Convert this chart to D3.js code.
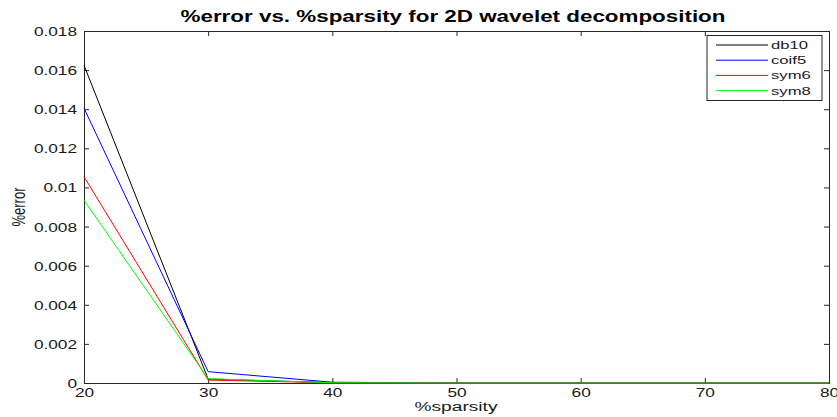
<!DOCTYPE html>
<html>
<head>
<meta charset="utf-8">
<script src="https://cdn.jsdelivr.net/npm/d3@7"></script>
<style>
  body { margin: 0; background: #fff; }
  svg { display: block; font-family: "Liberation Sans", Arial, sans-serif; }
</style>
</head>
<body>
<svg id="chart" width="837" height="417"></svg>
<script>
// Sparsity levels (%) on the x axis
const sparsity = [20, 30, 40, 50, 60, 70, 80];

// Percent error for each wavelet family
const db10  = [0.01625, 0.00020, 0.00002, 0, 0, 0, 0];
const coif5 = [0.01405, 0.00058, 0.00004, 0, 0, 0, 0];
const sym6  = [0.01055, 0.00015, 0.00001, 0, 0, 0, 0];
const sym8  = [0.00935, 0.00022, 0.00001, 0, 0, 0, 0];

const seriesNames = ["db10", "coif5", "sym6", "sym8"];
const seriesColors = ["#000000", "#0000ff", "#ff0000", "#00ff00"];
const seriesValues = [db10, coif5, sym6, sym8];

const xTicks = [20, 30, 40, 50, 60, 70, 80];
const yTicks = [0, 0.002, 0.004, 0.006, 0.008, 0.01, 0.012, 0.014, 0.016, 0.018];

const svg = d3.select("#chart");
const plotLeft = 84, plotRight = 829, plotTop = 31, plotBottom = 383;

const x = d3.scaleLinear().domain([20, 80]).range([plotLeft, plotRight]);
const y = d3.scaleLinear().domain([0, 0.018]).range([plotBottom, plotTop]);

const axisColor = "#262626";
const textColor = "#1a1a1a";
const tickLen = 5;
const sx = 1.38; // horizontal widening of all lettering

// Text whose glyphs are widened horizontally around its anchor point
function wideText(parent, px, py, str, size, anchor, widen) {
  return parent.append("text")
    .attr("transform", `translate(${px},${py}) scale(${widen || sx},1)`)
    .attr("text-anchor", anchor)
    .attr("font-size", size)
    .attr("fill", textColor)
    .text(str);
}

// Title
wideText(svg, 453, 22, "%error vs. %sparsity for 2D wavelet decomposition", 16, "middle", 1.4)
  .attr("font-weight", "bold").attr("fill", "#000");

// Bottom axis with inward ticks
const xAxis = svg.append("g").attr("transform", `translate(0,${plotBottom})`)
  .call(d3.axisBottom(x).tickValues(xTicks).tickSize(-tickLen).tickFormat(d3.format("d")));
// Top axis ticks (no labels)
const xAxisTop = svg.append("g").attr("transform", `translate(0,${plotTop})`)
  .call(d3.axisTop(x).tickValues(xTicks).tickSize(-tickLen).tickFormat(""));
// Left axis
const yAxis = svg.append("g").attr("transform", `translate(${plotLeft},0)`)
  .call(d3.axisLeft(y).tickValues(yTicks).tickSize(-tickLen)
    .tickFormat(d => d === 0 ? "0" : String(+d.toFixed(3))));
// Right axis ticks (no labels)
const yAxisRight = svg.append("g").attr("transform", `translate(${plotRight},0)`)
  .call(d3.axisRight(y).tickValues(yTicks).tickSize(-tickLen).tickFormat(""));

[xAxis, xAxisTop, yAxis, yAxisRight].forEach(g => {
  g.select(".domain").attr("stroke", axisColor).attr("stroke-width", 1);
  g.selectAll(".tick line").attr("stroke", axisColor);
  g.selectAll("text").attr("font-size", 12.5).attr("fill", textColor)
    .attr("font-family", "Liberation Sans, Arial, sans-serif");
});
// Widen tick lettering and place it beside the axes
xAxis.selectAll(".tick text")
  .attr("y", null).attr("dy", null)
  .attr("transform", `translate(0,14) scale(${sx},1)`);
yAxis.selectAll(".tick text")
  .attr("x", null).attr("dy", null)
  .attr("transform", `translate(-7,4.5) scale(${sx},1)`);

// Series lines
const line = d3.line().x((d, i) => x(sparsity[i])).y(d => y(d));
const plot = svg.append("g");
seriesValues.forEach((vals, k) => {
  plot.append("path")
    .datum(vals)
    .attr("fill", "none")
    .attr("stroke", seriesColors[k])
    .attr("stroke-width", 1)
    .attr("d", line);
});

// Axis labels
wideText(svg, 456, 410.5, "%sparsity", 13.5, "middle", 1.42);
svg.append("text")
  .attr("transform", `translate(25,207) scale(${sx},1) rotate(-90)`)
  .attr("text-anchor", "middle").attr("font-size", 13).attr("fill", textColor)
  .text("%error");

// Legend
const lg = svg.append("g");
const lx = 707, ly = 35.5, lw = 115, lh = 65;
lg.append("rect").attr("x", lx).attr("y", ly).attr("width", lw).attr("height", lh)
  .attr("fill", "#fff").attr("stroke", axisColor).attr("stroke-width", 1);
seriesNames.forEach((name, k) => {
  const yy = ly + 9.5 + k * 15.2;
  lg.append("line").attr("x1", lx + 9).attr("x2", lx + 61)
    .attr("y1", yy).attr("y2", yy)
    .attr("stroke", seriesColors[k]).attr("stroke-width", 1);
  wideText(lg, lx + 64, yy + 4, name, 11.5, "start", 1.45);
});
</script>
</body>
</html>
